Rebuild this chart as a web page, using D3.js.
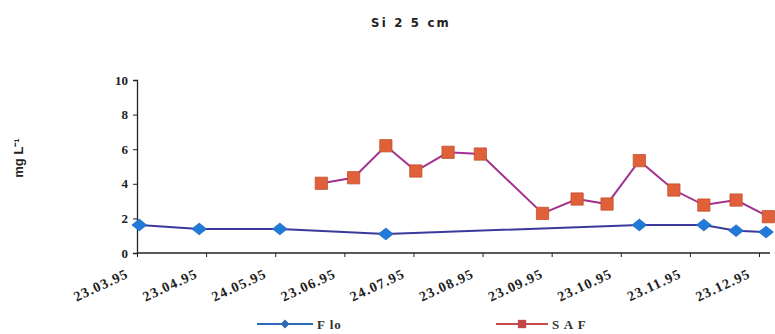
<!DOCTYPE html>
<html>
<head>
<meta charset="utf-8">
<script src="https://cdn.jsdelivr.net/npm/d3@7/dist/d3.min.js"></script>
<style>
  body { margin: 0; background: #fff; }
  svg { display: block; }
</style>
</head>
<body>
<svg id="chart" width="775" height="334"></svg>
<script>
// Sampling day (days after the first tick) and silica concentration, mg L-1
const floDays = [1, 27, 62, 108, 218, 246, 260, 273];
const floValues = [1.62, 1.39, 1.39, 1.1, 1.62, 1.62, 1.29, 1.21];

const safDays = [80, 94, 108, 121, 135, 149, 176, 191, 204, 218, 233, 246, 260, 274];
const safValues = [4.03, 4.35, 6.2, 4.74, 5.82, 5.72, 2.29, 3.12, 2.83, 5.34, 3.64, 2.77, 3.06, 2.1];

const tickDays = [0, 30, 60, 90, 120, 150, 180, 210, 240, 270];
const tickLabels = ["23.03.95", "23.04.95", "24.05.95", "23.06.95", "24.07.95",
                    "23.08.95", "23.09.95", "23.10.95", "23.11.95", "23.12.95"];
const yTicks = [0, 2, 4, 6, 8, 10];

const svg = d3.select("#chart");
const plotLeft = 137, plotRight = 770, plotTop = 80, plotBottom = 253;

const x = d3.scaleLinear().domain([0, 274.5]).range([plotLeft, plotRight - 0.5]);
const xTickScale = d3.scaleLinear().domain([0, 270]).range([plotLeft, 759]);
const y = d3.scaleLinear().domain([0, 10]).range([plotBottom, plotTop]);

// Title
svg.append("text")
  .attr("x", 411).attr("y", 27)
  .attr("text-anchor", "middle")
  .attr("font-family", "Liberation Sans Narrow, DejaVu Sans Condensed, sans-serif")
  .attr("font-size", 13).attr("font-weight", "bold")
  .attr("letter-spacing", 2.2)
  .attr("fill", "#222")
  .text("Si 2 5 cm");

// Y axis
const yAxis = svg.append("g")
  .attr("transform", `translate(${plotLeft},0)`)
  .call(d3.axisLeft(y).tickValues(yTicks).tickSize(4).tickFormat(d3.format("d")));
yAxis.select(".domain").attr("stroke", "#222").attr("stroke-width", 1.3);
yAxis.selectAll(".tick line").attr("stroke", "#222");
yAxis.selectAll("text")
  .attr("font-family", "Liberation Serif, serif")
  .attr("font-weight", "bold").attr("font-size", 13)
  .attr("fill", "#222").attr("x", -9);

// Y axis title
svg.append("text")
  .attr("transform", "translate(23,158) rotate(-90)")
  .attr("text-anchor", "middle")
  .attr("font-family", "Liberation Sans, Arial, sans-serif")
  .attr("font-weight", "bold").attr("font-size", 13)
  .attr("fill", "#222")
  .text("mg L\u207B\u00B9");

// X axis
const xAxis = svg.append("g")
  .attr("transform", `translate(0,${plotBottom})`)
  .call(d3.axisBottom(xTickScale).tickValues(tickDays).tickSize(4)
    .tickFormat((d, i) => tickLabels[i]));
xAxis.select(".domain").remove();
svg.append("line")
  .attr("x1", plotLeft).attr("x2", plotRight)
  .attr("y1", plotBottom).attr("y2", plotBottom)
  .attr("stroke", "#222").attr("stroke-width", 1.3);
xAxis.selectAll(".tick line").attr("stroke", "#222");
xAxis.selectAll("text")
  .attr("font-family", "Liberation Serif, serif")
  .attr("font-weight", "bold").attr("font-size", 14)
  .attr("letter-spacing", 1.2)
  .attr("fill", "#222")
  .attr("text-anchor", "end")
  .attr("dy", 0)
  .attr("transform", "translate(-8,24) rotate(-25)")
  .attr("y", 0).attr("x", 0);

// Series lines
const lineGen = (days) => d3.line().x((d, i) => x(days[i])).y(d => y(d));

svg.append("path")
  .datum(floValues)
  .attr("fill", "none").attr("stroke", "#3b3a9c").attr("stroke-width", 2)
  .attr("d", lineGen(floDays));

svg.append("path")
  .datum(safValues)
  .attr("fill", "none").attr("stroke", "#a3318f").attr("stroke-width", 2)
  .attr("d", lineGen(safDays));

// Markers
svg.append("g").selectAll("path")
  .data(floValues)
  .join("path")
  .attr("transform", (d, i) => `translate(${x(floDays[i])},${y(d)}) scale(1.25,1) rotate(45)`)
  .attr("d", d3.symbol().type(d3.symbolSquare).size(70))
  .attr("fill", "#1f7ad8").attr("stroke", "#2b6bbd").attr("stroke-width", 0.6);

svg.append("g").selectAll("path")
  .data(safValues)
  .join("path")
  .attr("transform", (d, i) => `translate(${x(safDays[i])},${y(d)})`)
  .attr("d", d3.symbol().type(d3.symbolSquare).size(150))
  .attr("fill", "#e0603a").attr("stroke", "#c0502f").attr("stroke-width", 0.8);

// Legend
const legend = [
  { name: "F lo", x1: 257, x2: 313, color: "#2b68b5", marker: "diamond", fill: "#2b68b5" },
  { name: "S A F", x1: 496, x2: 548, color: "#c84c4c", marker: "square", fill: "#c04848" }
];
const ly = 324;
legend.forEach(l => {
  svg.append("line")
    .attr("x1", l.x1).attr("x2", l.x2).attr("y1", ly).attr("y2", ly)
    .attr("stroke", l.color).attr("stroke-width", 2);
  const cx = (l.x1 + l.x2) / 2;
  if (l.marker === "diamond") {
    svg.append("path")
      .attr("transform", `translate(${cx},${ly}) rotate(45)`)
      .attr("d", d3.symbol().type(d3.symbolSquare).size(40))
      .attr("fill", l.fill);
  } else {
    svg.append("path")
      .attr("transform", `translate(${cx},${ly})`)
      .attr("d", d3.symbol().type(d3.symbolSquare).size(70))
      .attr("fill", l.fill);
  }
  svg.append("text")
    .attr("x", l.x2 + 4).attr("y", ly + 5)
    .attr("font-family", "Liberation Serif, serif")
    .attr("font-weight", "bold").attr("font-size", 13)
    .attr("letter-spacing", 1)
    .attr("fill", "#333")
    .text(l.name);
});
</script>
</body>
</html>
